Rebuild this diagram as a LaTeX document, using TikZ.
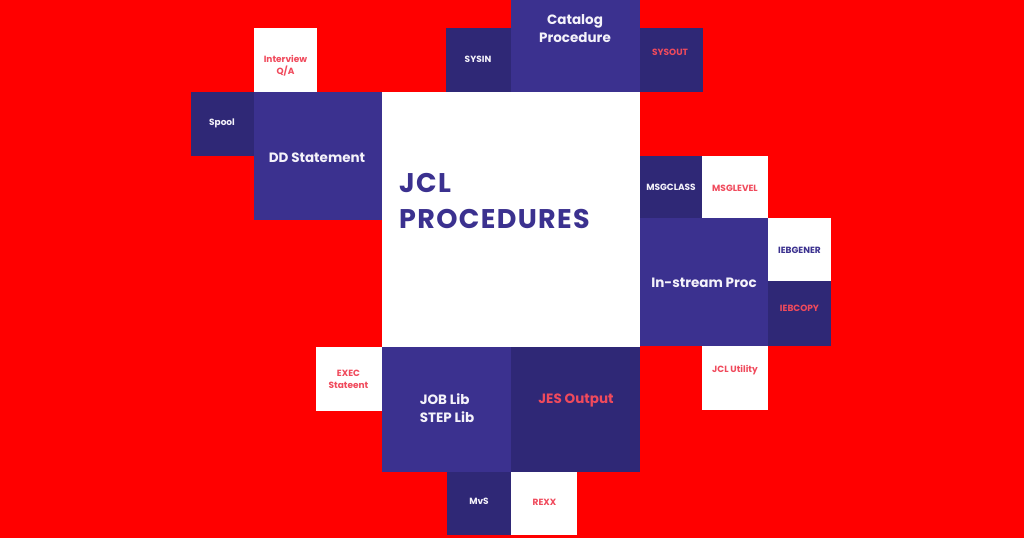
\documentclass[tikz,border=0pt]{standalone}
\usepackage{fontspec}
\setmainfont{Poppins}
\newfontfamily\bigfam{Poppins}[LetterSpace=5]
\definecolor{bgred}{HTML}{FF0000}
\definecolor{navyd}{HTML}{2F2876}
\definecolor{navyl}{HTML}{3B318F}
\definecolor{pinkt}{HTML}{F04A5C}
\definecolor{offw}{HTML}{F4F2FA}
\newcommand\tilebox[6]{%
  \node[tile,fill=#6,minimum width={(#4-#2)*1pt},minimum height={(#5-#3)*1pt}] (#1) at (#2,#3) {};}
\begin{document}
\begin{tikzpicture}[x=1pt,y=-1pt,
  tile/.style={draw=none,inner sep=0pt,outer sep=0pt,anchor=north west},
  small/.style={font=\fontsize{9}{12}\selectfont\bfseries,align=center,inner sep=0pt},
  mid/.style={font=\fontsize{13.5}{18}\selectfont\bfseries,align=center,inner sep=0pt},
  big/.style={font=\bigfam\fontsize{27}{36}\selectfont\bfseries,align=left,inner sep=0pt,anchor=west,text=navyl},
  wt/.style={text=offw},
  pk/.style={text=pinkt},
  bt/.style={text=navyl},
]
\fill[bgred] (0,0) rectangle (1024,538);
\useasboundingbox (0,0) rectangle (1024,538);
% tiles
\tilebox{iv}{254}{28}{317}{92}{white}
\tilebox{spool}{191}{92}{254}{156}{navyd}
\tilebox{dd}{254}{92}{382}{220}{navyl}
\tilebox{sysin}{446}{28}{511}{92}{navyd}
\tilebox{cat}{511}{0}{640}{92}{navyl}
\tilebox{sysout}{640}{28}{703}{92}{navyd}
\tilebox{main}{382}{92}{640}{347}{white}
\tilebox{msgc}{640}{156}{702}{218}{navyd}
\tilebox{msgl}{702}{156}{768}{218}{white}
\tilebox{instr}{640}{218}{768}{346}{navyl}
\tilebox{iebg}{768}{218}{831}{281}{white}
\tilebox{iebc}{768}{281}{831}{346}{navyd}
\tilebox{util}{702}{346}{768}{410}{white}
\tilebox{exec}{316}{347}{382}{411}{white}
\tilebox{job}{382}{347}{511}{472}{navyl}
\tilebox{jes}{511}{347}{640}{472}{navyd}
\tilebox{mvs}{447}{472}{511}{535}{navyd}
\tilebox{rexx}{511}{472}{577}{535}{white}
% labels
\node[small,pk] (tiv) at (285.5,66) {Interview\\Q/A};
\node[small,wt] (tspool) at (222,123) {Spool};
\node[mid,wt] (tdd) at (317,158) {DD Statement};
\node[small,wt] (tsysin) at (478,59) {SYSIN};
\node[mid,wt] (tcat) at (575,28.5) {Catalog\\Procedure};
\node[small,pk] (tsysout) at (670,52) {SYSOUT};
\node[big] (tmain) at (399,201.5) {JCL\\PROCEDURES};
\node[small,wt] (tmsgc) at (671,187) {MSGCLASS};
\node[small,pk] (tmsgl) at (735,188) {MSGLEVEL};
\node[mid,wt] (tinstr) at (704,282.5) {In-stream Proc};
\node[small,bt] (tiebg) at (799.5,250) {IEBGENER};
\node[small,pk] (tiebc) at (799.5,308) {IEBCOPY};
\node[small,pk] (tutil) at (735,370) {JCL Utility};
\node[small,pk] (texec) at (348.5,379) {EXEC\\Stateent};
\node[mid,wt,align=left] (tjob) at (447,408) {JOB Lib\\STEP Lib};
\node[mid,pk] (tjes) at (576,400) {JES Output};
\node[small,wt] (tmvs) at (479,501.5) {MvS};
\node[small,pk] (trexx) at (544.5,502) {REXX};
\end{tikzpicture}
\end{document}
